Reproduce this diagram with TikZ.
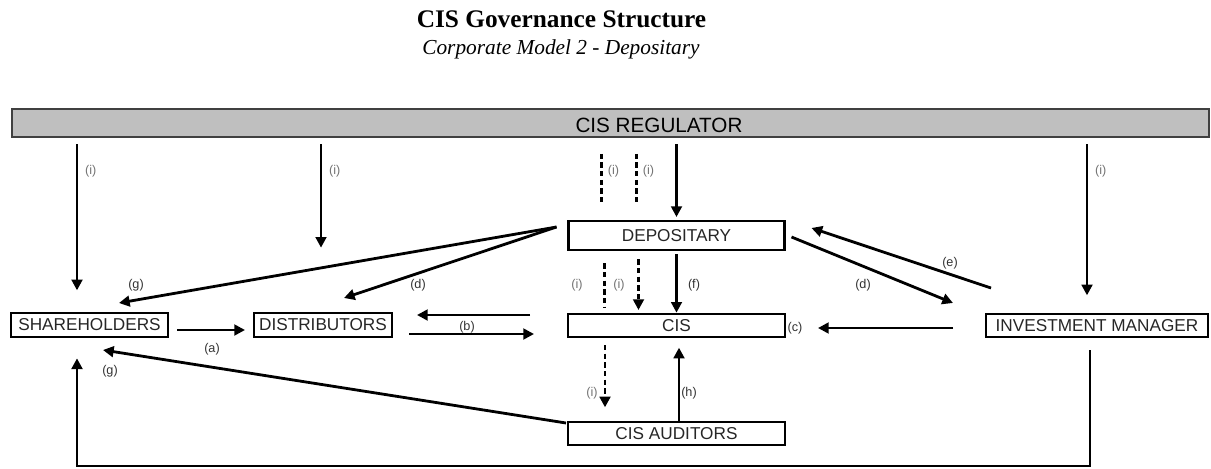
\documentclass[tikz,border=0pt]{standalone}
\usepackage{fontspec}
\setmainfont{Liberation Serif}
\setsansfont{Liberation Sans}
\usetikzlibrary{arrows.meta,calc}

\begin{document}
\begin{tikzpicture}[x=0.75pt,y=-0.75pt,
  box/.style={draw=black,line width=1.6pt,inner sep=0pt,outer sep=0pt,minimum height=17.25pt,
    font=\sffamily\fontsize{12.9}{14}\selectfont,text=black!85},
  arr/.style={line width=2.1pt,-{Triangle[length=8pt,width=8pt]}},
  darr/.style={arr,dash pattern=on 4pt off 2.5pt},
  dline/.style={line width=1.6pt,dash pattern=on 4pt off 2.5pt},
  lbl/.style={font=\sffamily\fontsize{9.5}{11}\selectfont,text=black!80,inner sep=0pt},
  ilbl/.style={lbl,text=black!55}]

\useasboundingbox (0,0) rectangle (1211,468);

\node[font=\bfseries\fontsize{19}{22}\selectfont,anchor=base] (title) at (561.5,27) {CIS Governance Structure};
\node[font=\itshape\fontsize{16}{19}\selectfont,anchor=base] (subtitle) at (561,54) {Corporate Model 2 - Depositary};

\node[draw=black!75,fill=black!25,line width=1.2pt,minimum width=897.75pt,minimum height=21pt,inner sep=0pt] (reg) at (610.5,123) {};
\node[font=\sffamily\fontsize{15.5}{17}\selectfont,anchor=base] (regtext) at (659,132) {CIS REGULATOR};

\node[box,minimum width=117.75pt,minimum height=18pt] (sh) at (89.5,325) {SHAREHOLDERS};
\node[box,minimum width=103.5pt,minimum height=18pt] (di) at (323,325) {DISTRIBUTORS};
\node[box,minimum width=162pt,minimum height=21.75pt] (dep) at (676.5,235.5) {DEPOSITARY};
\node[box,minimum width=162.75pt] (cis) at (676.5,325.5) {CIS};
\node[box,minimum width=162.75pt] (aud) at (676.5,433.5) {CIS AUDITORS};
\node[box,minimum width=166.5pt] (im) at (1097,325.5) {INVESTMENT MANAGER};

% from the regulator
\draw[arr,shorten <=5pt,shorten >=17pt] ($(reg.south -| sh.north)+(-12.5,0)$) -- ($(sh.north)+(-12.5,0)$)
  node[ilbl,pos=0.19,right=5pt] {(i)};
\draw[arr,shorten <=5pt,shorten >=49pt] ($(reg.south -| di.north)+(-2,0)$) -- ($(di.north)+(-2,0)$)
  node[ilbl,pos=0.19,right=5pt] {(i)};
\draw[dline,shorten <=12pt,shorten >=12pt] ($(reg.south -| dep.north)+(-75,0)$) -- ($(dep.north)+(-75,0)$)
  node[ilbl,pos=0.4,right=4pt] {(i)};
\draw[dline,shorten <=12pt,shorten >=12pt] ($(reg.south -| dep.north)+(-40,0)$) -- ($(dep.north)+(-40,0)$)
  node[ilbl,pos=0.4,right=4pt] {(i)};
\draw[arr,shorten <=5pt,shorten >=3pt] (reg.south -| dep.north) -- (dep.north);
\draw[arr,shorten <=5pt,shorten >=14pt] ($(reg.south -| im.north)+(-10,0)$) -- ($(im.north)+(-10,0)$)
  node[ilbl,pos=0.19,right=5pt] {(i)};

% from the depositary
\draw[arr] ($(dep.west)+(-12,-8.5)$) -- ($(sh.north)+(29.5,-10)$) node[lbl] at (136,285) {(g)};
\draw[arr] ($(dep.west)+(-12,-8.5)$) -- ($(di.north)+(21,-15)$) node[lbl] at (418,285) {(d)};
\draw[arr,shorten <=3pt,shorten >=1pt] (dep.south) -- (cis.north) node[lbl] at (694,285) {(f)};
\draw[dline,shorten <=10pt,shorten >=5pt] ($(dep.south)+(-72,0)$) -- ($(cis.north)+(-72,0)$)
  node[ilbl] at (577,285) {(i)} node[ilbl] at (619,285) {(i)};
\draw[darr,shorten <=7pt,shorten >=3pt] ($(dep.south)+(-38,0)$) -- ($(cis.north)+(-38,0)$);
\draw[arr] ($(dep.east)+(7,1.5)$) -- ($(im.north)+(-144,-11)$) node[lbl] at (863,285) {(d)};
\draw[arr] ($(im.north)+(-106,-26)$) -- ($(dep.east)+(27,-7.5)$) node[lbl] at (950,263) {(e)};

% middle row
\draw[arr] ($(cis.west)+(-38,-10.5)$) -- ($(di.east)+(25,-10)$);
\draw[arr] ($(di.east)+(17,9)$) -- ($(cis.west)+(-34,8.5)$) node[lbl] at (467,327) {(b)};
\draw[arr] ($(sh.east)+(9,5)$) -- ($(di.west)+(-9,5)$) node[lbl] at (212,349) {(a)};
\draw[arr] ($(im.west)+(-33,2.5)$) -- ($(cis.east)+(33,2.5)$) node[lbl] at (795,328) {(c)};

% auditors
\draw[darr,shorten <=6pt,shorten >=11pt] ($(cis.south)+(-71.5,0)$) -- ($(aud.north)+(-71.5,0)$)
  node[ilbl] at (592,393) {(i)};
\draw[arr,shorten <=1pt,shorten >=8pt] ($(aud.north)+(2.5,0)$) -- ($(cis.south)+(2.5,0)$)
  node[lbl] at (689,393) {(h)};
\draw[arr] ($(aud.north west)+(-2,1)$) -- ($(sh.south)+(13.5,13)$) node[lbl] at (110,371) {(g)};

% investment manager back to shareholders
\coordinate (turn) at (805,466);
\draw[line width=0.8pt] ($(im.south)+(-7,13)$) |- (turn);
\draw[arr,shorten >=16pt] (turn) -| ($(sh.south)+(-12.5,0)$);

\end{tikzpicture}
\end{document}
